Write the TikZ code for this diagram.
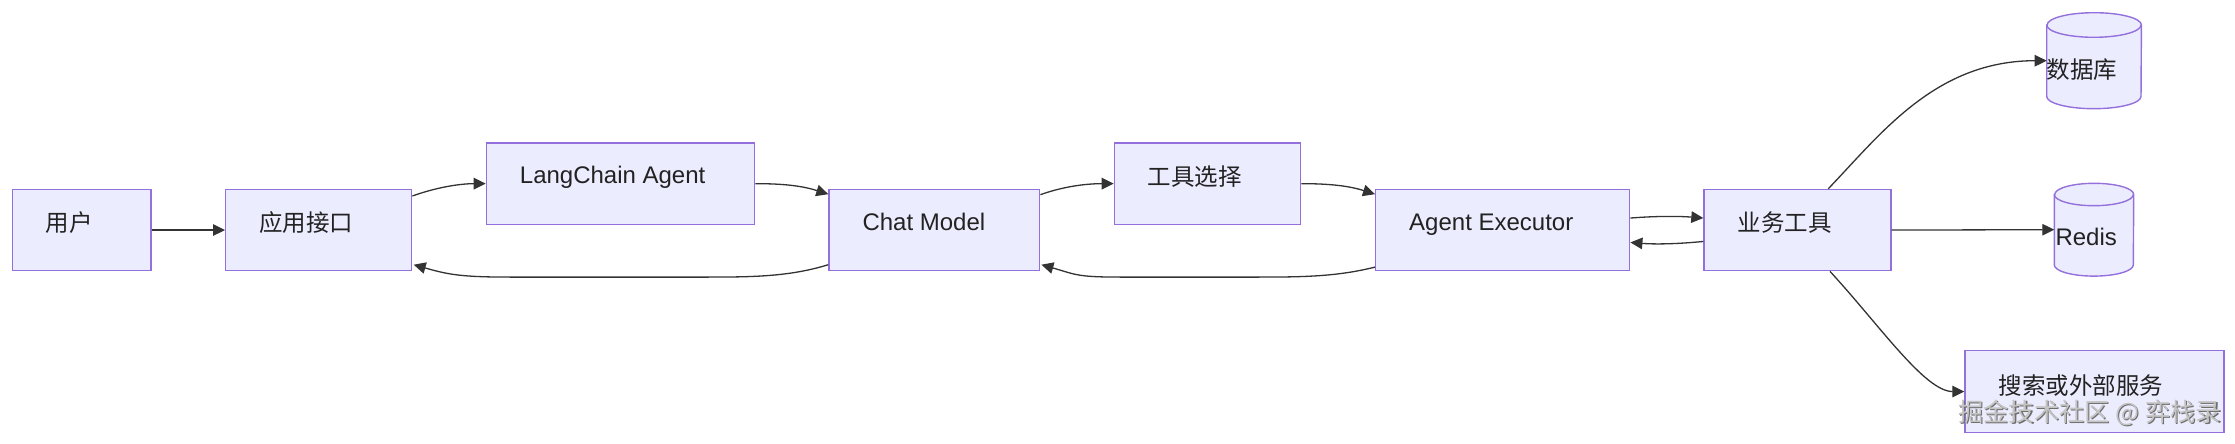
\documentclass[tikz,border=0pt]{standalone}
\usepackage{fontspec}
\setmainfont{Liberation Sans}
\newfontfamily\cjk{Noto Sans CJK SC}
\usetikzlibrary{arrows.meta,calc}
\definecolor{nodefill}{HTML}{ECECFF}
\definecolor{nodeborder}{HTML}{9370DB}
\definecolor{edgecol}{HTML}{333333}
\definecolor{txt}{HTML}{222222}
\definecolor{wmdark}{HTML}{6E6E6E}
\definecolor{wmlight}{HTML}{C4C4C4}
\newcommand\drawcylinder[3]{%
  \path[cylbody] ([yshift=-#3]#1.north west) -- ([yshift=#3]#1.south west)
    arc[start angle=180,end angle=360,x radius=#2,y radius=#3]
    -- ([yshift=-#3]#1.north east)
    arc[start angle=0,end angle=180,x radius=#2,y radius=#3] -- cycle;
  \draw[cylbody,fill=none] ([yshift=-#3]#1.north west)
    arc[start angle=180,end angle=360,x radius=#2,y radius=#3];
}
\begin{document}
\begin{tikzpicture}[x=1pt,y=1pt,
  box/.style={draw=nodeborder, fill=nodefill, line width=1.4pt, rectangle, inner sep=0pt, minimum height=81.3pt, anchor=north west},
  spot/.style={inner sep=0pt, anchor=north west},
  lbl/.style={inner sep=0pt, anchor=base west, text=txt, font=\fontsize{24}{28}\selectfont},
  zh/.style={lbl, font=\fontsize{23.5}{28}\selectfont\cjk},
  wmark/.style={inner sep=0pt, anchor=base west, font=\fontsize{25.3}{30}\selectfont\cjk},
  edge/.style={draw=edgecol, line width=1.3pt, -{Triangle[length=12pt,width=11.5pt]}},
  cylbody/.style={fill=nodefill, draw=nodeborder, line width=1.4pt},
]
\useasboundingbox (0,0) rectangle (2235,-444);

% boxes
\node[box, minimum width=138.6pt] (user) at (11.7,-188.7) {};
\node[box, minimum width=186pt] (api) at (225,-188.7) {};
\node[box, minimum width=268.3pt] (lc) at (485.7,-142.3) {};
\node[box, minimum width=210.7pt] (chat) at (828.3,-188.7) {};
\node[box, minimum width=186.3pt] (sel) at (1113.7,-142.3) {};
\node[box, minimum width=254pt] (ae) at (1375,-188.7) {};
\node[box, minimum width=187pt] (biz) at (1703.3,-188.7) {};
\node[box, minimum width=259pt, minimum height=81.7pt] (search) at (1964.3,-350) {};
\node[spot, minimum width=94.3pt, minimum height=95.6pt] (db) at (2046.7,-12.7) {};
\node[spot, minimum width=79pt, minimum height=92.4pt] (redis) at (2054.3,-183.3) {};
\drawcylinder{db}{47.15pt}{12.3pt}
\drawcylinder{redis}{39.5pt}{11.2pt}

% edges
\draw[edge] (user) -- (api);
\draw[edge] ($(api.north east)+(0,-7.3)$) .. controls +(25,9) and +(-25,0) .. (lc.west);
\draw[edge] (lc.east) .. controls +(30,0) and +(-25,8) .. ($(chat.north west)+(0,-5.5)$);
\draw[edge] ($(chat.north east)+(0,-6)$) .. controls +(25,9) and +(-25,0) .. (sel.west);
\draw[edge] (sel.east) .. controls +(30,0) and +(-25,8) .. ($(ae.north west)+(0,-5.5)$);
\draw[edge] ($(ae.east)+(0,12)$) .. controls +(25,2) and +(-25,2) .. ($(biz.west)+(0,12)$);
\draw[edge] ($(biz.west)+(0,-11.4)$) .. controls +(-25,-2.5) and +(25,-2) .. ($(ae.east)+(0,-12.4)$);
\draw[edge] ($(biz.north west)+(125,0)$) .. controls +(51.7,53.7) and +(-111.7,0) .. (db.west);
\draw[edge] (biz.east) -- (redis.west);
\draw[edge] ($(biz.south west)+(126.7,0)$) .. controls +(50,-54.3) and +(-39.3,0) .. (search.west);
\draw[edge] ($(chat.south west)+(0,6.7)$) .. controls +(-40,-12.4) and +(50,0) .. ($(chat.south west)+(-128,-5.7)$)
  -- ($(api.south east)+(99,-5.7)$) .. controls +(-50,0) and +(35,-10) .. ($(api.south east)+(1.3,6.7)$);
\draw[edge] ($(ae.south west)+(0,4.3)$) .. controls +(-40,-10) and +(50,0) .. ($(ae.south west)+(-125,-5.7)$)
  -- ($(chat.south east)+(81,-5.7)$) .. controls +(-45,0) and +(35,-10) .. ($(chat.south east)+(1,6.7)$);

% labels
\node[zh] (user-t) at ($(user.north west)+(34,-43)$) {用户};
\node[zh] (api-t) at ($(api.north west)+(34,-43)$) {应用接口};
\node[lbl] (lc-t) at ($(lc.north west)+(34,-41.5)$) {LangChain Agent};
\node[lbl] (chat-t) at ($(chat.north west)+(34,-41.5)$) {Chat Model};
\node[zh] (sel-t) at ($(sel.north west)+(34,-43)$) {工具选择};
\node[lbl] (ae-t) at ($(ae.north west)+(34,-41.5)$) {Agent Executor};
\node[zh] (biz-t) at ($(biz.north west)+(34,-43)$) {业务工具};
\node[zh] (search-t) at ($(search.north west)+(34,-44)$) {搜索或外部服务};
\node[zh] (db-t) at ($(db.north west)+(0,-65.5)$) {数据库};
\node[lbl] (redis-t) at ($(redis.north west)+(1,-61.7)$) {Redis};

% watermark
\node[wmark, text=wmdark] (wm-shadow) at (1959.2,-422.8) {掘金技术社区 @ 弈栈录};
\node[wmark, text=wmlight] (wm) at (1958,-421.8) {掘金技术社区 @ 弈栈录};
\end{tikzpicture}
\end{document}
